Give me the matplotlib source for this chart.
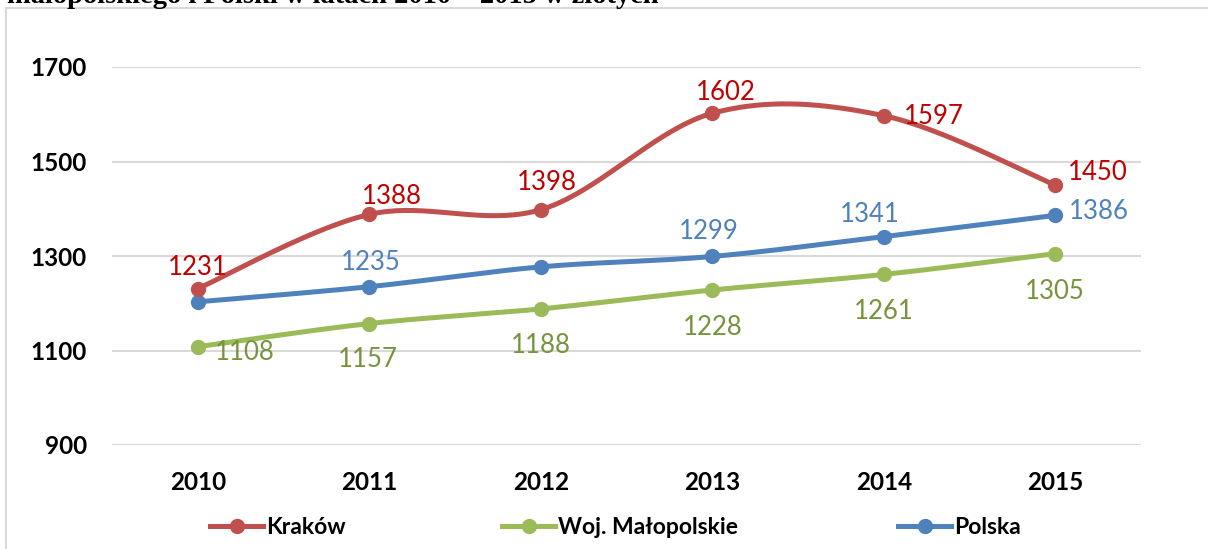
import numpy as np
import matplotlib
matplotlib.use("Agg")
import matplotlib.pyplot as plt
from matplotlib.lines import Line2D
from matplotlib.patches import Rectangle

years = ["2010", "2011", "2012", "2013", "2014", "2015"]
krakow = [1231, 1388, 1398, 1602, 1597, 1450]
malopolskie = [1108, 1157, 1188, 1228, 1261, 1305]
polska = [1203, 1235, 1277, 1299, 1341, 1386]
# which points carry a value label (Polska 2010/2012 have none)
polska_labeled = [False, True, False, True, True, True]
series_names = ["Kraków", "Woj. Małopolskie", "Polska"]
yticks = [900, 1100, 1300, 1500, 1700]

line_colors = ["#C0504D", "#9BBB59", "#4F81BD"]
label_colors = ["#C00000", "#77933C", "#4F81BD"]

# label offsets in pixels (dx, dy)
off_k = [(0, 21), (23, 18), (6, 27), (13, 21), (50, -1), (42, 13)]
off_m = [(47, -6), (-1, -36), (0, -37), (0, -37), (0, -37), (0, -38)]
off_p = [(0, 0), (2, 24), (0, 0), (-3, 25), (-14, 22), (44, 4)]

W, H = 1208, 549
fig = plt.figure(figsize=(W / 100, H / 100), dpi=100)
fig.patch.set_facecolor("white")

# outer chart frame
fig.add_artist(Rectangle((6 / W, -0.01), 1.0, 1 - 7.5 / H + 0.01, transform=fig.transFigure,
                         fill=False, edgecolor="#D9D9D9", linewidth=1.5))
# clipped caption above chart (cut off in the source image as well)
fig.text(7 / W, 1 - 3 / H, "małopolskiego i Polski w latach 2010 – 2015 w złotych",
         family=["Liberation Serif", "DejaVu Serif"], fontweight="bold", fontsize=20.5,
         va="baseline", ha="left")

ax = fig.add_axes([112 / W, 1 - 445 / H, (1141 - 112) / W, (445 - 67) / H])
x = np.arange(len(years))
ax.set_xlim(-0.5, len(years) - 0.5)
ax.set_ylim(900, 1700)
ax.set_yticks(yticks)
ax.set_xticks(x)
ax.set_xticklabels(years)
for s in ax.spines.values():
    s.set_visible(False)
ax.grid(axis="y", color="#D9D9D9", linewidth=1.5)
ax.set_axisbelow(True)
ax.tick_params(length=0)
ax.tick_params(axis="y", pad=18)
ax.tick_params(axis="x", pad=19)
for lab in ax.get_xticklabels() + ax.get_yticklabels():
    lab.set_fontfamily(["Lato", "DejaVu Sans"])
    lab.set_fontweight("bold")
    lab.set_fontsize(17.5)

px_x = (1141 - 112) / len(years)
px_y = (445 - 67) / 800.0


def smooth(xs, ys, n=40):
    # Catmull-Rom style smoothing in screen-proportional space
    P = np.column_stack([np.asarray(xs, float) * px_x, np.asarray(ys, float) * px_y])
    out = []
    for i in range(len(P) - 1):
        p0 = P[i - 1] if i > 0 else P[i]
        p1 = P[i]
        p2 = P[i + 1]
        p3 = P[i + 2] if i + 2 < len(P) else P[i + 1]
        c1 = p1 + (p2 - p0) / 6.0
        c2 = p2 - (p3 - p1) / 6.0
        t = np.linspace(0, 1, n)[:, None]
        seg = ((1 - t) ** 3) * p1 + 3 * ((1 - t) ** 2) * t * c1 + 3 * (1 - t) * t ** 2 * c2 + t ** 3 * p2
        out.append(seg if i == 0 else seg[1:])
    out = np.vstack(out)
    return out[:, 0] / px_x, out[:, 1] / px_y


data = [krakow, malopolskie, polska]
offs = [off_k, off_m, off_p]
labeled = [[True] * 6, [True] * 6, polska_labeled]
z = [3, 1, 2]
for i, vals in enumerate(data):
    sx, sy = smooth(x, vals)
    ax.plot(sx, sy, color=line_colors[i], linewidth=3.6, zorder=z[i], solid_capstyle="round")
    ax.plot(x, vals, linestyle="none", marker="o", markersize=10, color=line_colors[i], zorder=z[i])
    for j, v in enumerate(vals):
        if not labeled[i][j]:
            continue
        ax.annotate(str(v), (x[j], v), xytext=offs[i][j], textcoords="offset pixels",
                    ha="center", va="center", color=label_colors[i], fontsize=18.5,
                    family=["Lato", "DejaVu Sans"], zorder=5)

# legend entries
leg_x = [198, 490, 886]
for i, name in enumerate(series_names):
    h = Line2D([], [], color=line_colors[i], linewidth=3.6, marker="o", markersize=10)
    lg = fig.legend([h], [name], loc="center left", bbox_to_anchor=(leg_x[i] / W - 0.007, 1 - 528 / H),
                    frameon=False, handlelength=2.3, handletextpad=0.12,
                    prop={"family": ["Lato", "DejaVu Sans"], "weight": "bold", "size": 16.5})

fig.savefig("out.png", dpi=100)
